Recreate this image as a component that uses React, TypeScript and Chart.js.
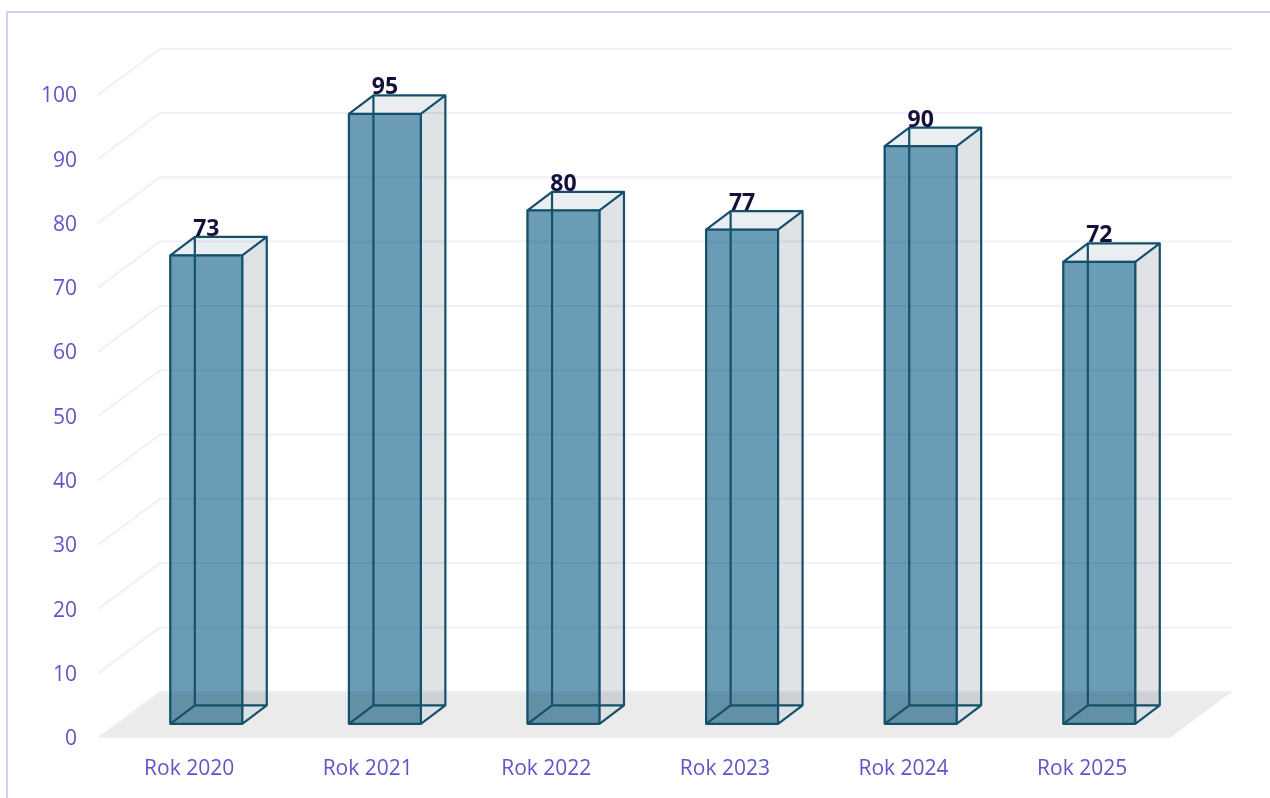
import React, { useEffect, useRef } from "react";
import { Chart, registerables } from "chart.js";

Chart.register(...registerables);

const categories = ["Rok 2020", "Rok 2021", "Rok 2022", "Rok 2023", "Rok 2024", "Rok 2025"];
const seriesValues = [73, 95, 80, 77, 90, 72];
const yTicks = [0, 10, 20, 30, 40, 50, 60, 70, 80, 90, 100];

const FONT = '"Open Sans", sans-serif';
const LINE = "#15506b";
const TEXT = "#5b57c9";
const GRID = "#f0effa";
const FLOOR = "#ebebeb";
const FRAME = "#d3d0f2";

// 3D projection constants (pixels)
const WALL_FRONT_LEFT = 98;
const WALL_DX = 62;
const WALL_DY = 46;
const WALL_WIDTH = 1072;
const AXIS_SHIFT = 13.9;
const LABEL_SHIFT = 15.5;
const BOX_DX = 24.5;
const BOX_DY = 18.5;

function poly(ctx: CanvasRenderingContext2D, pts: number[][], fill?: string) {
  ctx.beginPath();
  pts.forEach((p, i) => (i ? ctx.lineTo(p[0], p[1]) : ctx.moveTo(p[0], p[1])));
  ctx.closePath();
  if (fill) {
    ctx.fillStyle = fill;
    ctx.fill();
  }
}

const scenePlugin = {
  id: "scene3d",
  beforeDraw(chart: any) {
    const ctx = chart.ctx;
    ctx.save();
    ctx.fillStyle = "#ffffff";
    ctx.fillRect(0, 0, chart.width, chart.height);
    ctx.fillStyle = FRAME;
    ctx.fillRect(6, 11, 2, chart.height - 11);
    ctx.fillRect(6, 11, chart.width - 6, 2);
    ctx.restore();
  },
  beforeDatasetsDraw(chart: any) {
    const ctx: CanvasRenderingContext2D = chart.ctx;
    const y = chart.scales.y;
    const l = WALL_FRONT_LEFT;
    ctx.save();
    const f0 = y.getPixelForValue(0) + AXIS_SHIFT;
    poly(
      ctx,
      [
        [l, f0],
        [l + WALL_WIDTH, f0],
        [l + WALL_WIDTH + WALL_DX, f0 - WALL_DY],
        [l + WALL_DX, f0 - WALL_DY],
      ],
      FLOOR
    );
    ctx.lineWidth = 2;
    ctx.lineJoin = "round";
    yTicks.forEach((t) => {
      const fy = y.getPixelForValue(t) + AXIS_SHIFT;
      ctx.beginPath();
      ctx.moveTo(l, fy);
      ctx.lineTo(l + WALL_DX, fy - WALL_DY);
      ctx.lineTo(l + WALL_DX + WALL_WIDTH, fy - WALL_DY);
      ctx.strokeStyle = GRID;
      ctx.stroke();
    });

    const meta = chart.getDatasetMeta(0);
    meta.data.forEach((bar: any) => {
      const x0 = bar.x - bar.width / 2 + 1;
      const x1 = bar.x + bar.width / 2 - 1;
      const b = bar.base;
      const t = bar.y + 1;
      poly(ctx, [[x1, b], [x1, b - BOX_DY], [x1 + BOX_DX, b - BOX_DY]], "#fdfdfd");
      ctx.globalCompositeOperation = "multiply";
      poly(ctx, [[x1, b], [x1 + BOX_DX, b - BOX_DY], [x1 + BOX_DX, t - BOX_DY], [x1, t]], "#dfe3e6");
      poly(ctx, [[x0, t], [x1, t], [x1 + BOX_DX, t - BOX_DY], [x0 + BOX_DX, t - BOX_DY]], "#eaeef1");
      ctx.globalCompositeOperation = "source-over";
    });
    ctx.restore();
    ctx.save();
    ctx.globalCompositeOperation = "multiply";
  },
  afterDatasetsDraw(chart: any) {
    const ctx: CanvasRenderingContext2D = chart.ctx;
    ctx.restore();
    ctx.save();
    const meta = chart.getDatasetMeta(0);
    ctx.lineWidth = 2.2;
    ctx.strokeStyle = LINE;
    ctx.lineJoin = "round";
    meta.data.forEach((bar: any) => {
      const x0 = bar.x - bar.width / 2 + 1;
      const x1 = bar.x + bar.width / 2 - 1;
      const b = bar.base;
      const t = bar.y + 1;
      ctx.beginPath();
      ctx.rect(x0, t, x1 - x0, b - t);
      ctx.rect(x0 + BOX_DX, t - BOX_DY, x1 - x0, b - t);
      ctx.moveTo(x0, t);
      ctx.lineTo(x0 + BOX_DX, t - BOX_DY);
      ctx.moveTo(x1, t);
      ctx.lineTo(x1 + BOX_DX, t - BOX_DY);
      ctx.moveTo(x0, b);
      ctx.lineTo(x0 + BOX_DX, b - BOX_DY);
      ctx.moveTo(x1, b);
      ctx.lineTo(x1 + BOX_DX, b - BOX_DY);
      ctx.stroke();
    });
    ctx.font = `bold 23px ${FONT}`;
    ctx.fillStyle = "#14103a";
    ctx.textAlign = "center";
    ctx.textBaseline = "middle";
    meta.data.forEach((bar: any, i: number) => {
      ctx.fillText(String(seriesValues[i]), bar.x, bar.y - 25);
    });
    ctx.restore();
  },
};

export default function App() {
  const ref = useRef<HTMLCanvasElement>(null);
  useEffect(() => {
    const chart = new Chart(ref.current!, {
      type: "bar",
      data: {
        labels: categories,
        datasets: [
          {
            data: seriesValues,
            backgroundColor: "#6a9db5",
            borderWidth: 0,
            barPercentage: 0.414,
            categoryPercentage: 1,
          },
        ],
      },
      plugins: [scenePlugin],
      options: {
        animation: false,
        responsive: false,
        maintainAspectRatio: false,
        layout: { padding: { left: 0, top: 80.8, right: 81.4, bottom: 0 } },
        plugins: { legend: { display: false }, tooltip: { enabled: false }, title: { display: false } },
        scales: {
          x: {
            grid: { display: false, drawTicks: false },
            border: { display: false },
            afterFit: (s: any) => {
              s.height = 74.2;
            },
            ticks: {
              color: TEXT,
              font: { family: FONT, size: 21 },
              padding: 33,
              labelOffset: -17.2,
              maxRotation: 0,
            },
          },
          y: {
            min: 0,
            max: 100,
            afterFit: (s: any) => {
              s.width = 117;
            },
            afterBuildTicks: (s: any) => {
              s.ticks = yTicks.map((value) => ({ value }));
            },
            grid: { display: false, drawTicks: false },
            border: { display: false },
            ticks: {
              color: TEXT,
              font: { family: FONT, size: 21 },
              padding: 40,
              labelOffset: LABEL_SHIFT,
            },
          },
        },
      },
    });
    return () => chart.destroy();
  }, []);
  return (
    <canvas
      ref={ref}
      width={1270}
      height={798}
      style={{ position: "fixed", left: 0, top: 0, display: "block" }}
    />
  );
}
